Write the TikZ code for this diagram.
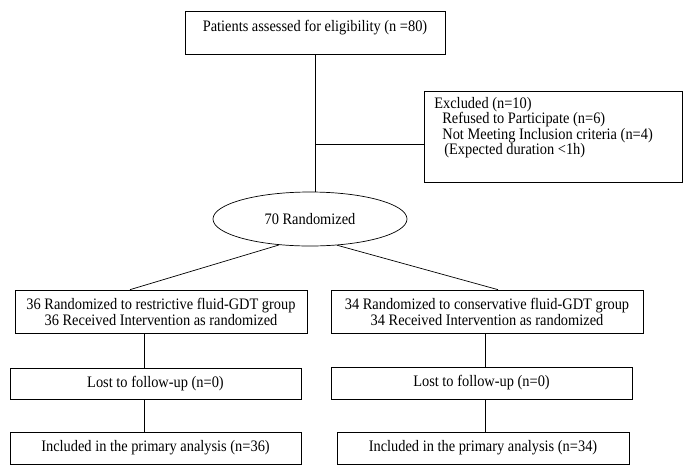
\documentclass[tikz,border=0pt]{standalone}
\usepackage{fontspec}
\setmainfont{Liberation Serif}[FakeStretch=0.9]
\usetikzlibrary{shapes.geometric}

\tikzset{
  box/.style={draw, rectangle, inner sep=0pt, align=center},
}

\begin{document}
\begin{tikzpicture}[x=1pt, y=-1pt, line width=0.7pt, font=\fontsize{16}{16}\selectfont]
  \useasboundingbox (0,0) rectangle (685,475);

  \node (elig) [box, minimum width=260pt, text height=20pt, text depth=23pt] at (315,32.5) {Patients assessed for eligibility (n =80)};
  \node (excl) [box, minimum width=258pt, minimum height=91pt] at (553,136.5) {};
  \node (excltext) [anchor=north west, inner sep=0pt, align=left, font=\fontsize{16}{15.3}\selectfont] at (434,97)
    {Excluded (n=10)\\\hspace*{8pt}Refused to Participate (n=6)\\\hspace*{8pt}Not Meeting Inclusion criteria (n=4)\\\hspace*{10pt}(Expected duration <1h)};
  \node (rand) [draw, ellipse, minimum width=194pt, minimum height=54pt, inner sep=0pt] at (310,219) {70 Randomized};

  \node (grpA) [box, minimum width=292pt, minimum height=43pt] at (161,311.5)
    {36 Randomized to restrictive fluid-GDT group\\36 Received Intervention as randomized};
  \node (grpB) [box, minimum width=312pt, minimum height=43pt] at (487,311.5)
    {34 Randomized to conservative fluid-GDT group\\34 Received Intervention as randomized};
  \node (lostA) [box, minimum width=291pt, minimum height=31pt] at (155.5,383.5) {Lost to follow-up (n=0)};
  \node (lostB) [box, minimum width=301pt, minimum height=32pt] at (481.5,383) {Lost to follow-up (n=0)};
  \node (inclA) [box, minimum width=291pt, minimum height=32pt] at (155.5,448) {Included in the primary analysis (n=36)};
  \node (inclB) [box, minimum width=292pt, minimum height=32pt] at (483,448) {Included in the primary analysis (n=34)};

  \coordinate (split) at (315,144);
  \coordinate (trunkA) at (144,0);
  \coordinate (trunkB) at (485,0);

  \path[draw]
    (elig.south) edge (elig.south |- rand.north)
    (split) edge (split -| excl.west)
    (rand.220) edge ([xshift=-31pt]grpA.north)
    (rand.316) edge ([xshift=11pt]grpB.north)
    (grpA.south -| trunkA) edge (lostA.north -| trunkA)
    (lostA.south -| trunkA) edge (inclA.north -| trunkA)
    (grpB.south -| trunkB) edge (lostB.north -| trunkB)
    (lostB.south -| trunkB) edge (inclB.north -| trunkB);

\end{tikzpicture}
\end{document}
